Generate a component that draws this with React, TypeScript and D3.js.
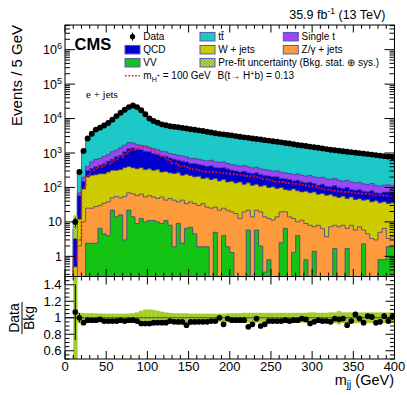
import React from "react";
import * as d3 from "d3";

// ---------------- data (5 GeV bins, 0 - 400 GeV) ----------------
const massEdges = d3.range(0, 401, 5);

const dataCounts = [
  0, 0, 10, 280, 1140, 2630, 3640, 4780, 5450, 6300,
  7400, 9300, 11800, 14800, 18000, 21500, 24000, 21500, 17400, 13300,
  10000, 8500, 7600, 6800, 6400, 6000, 5800, 5600, 5350, 5150,
  4900, 4750, 4550, 4350, 4150, 3950, 3750, 3600, 3480, 3350,
  3240, 3100, 2950, 2850, 2750, 2650, 2560, 2460, 2360, 2290,
  2200, 2120, 2040, 1960, 1880, 1790, 1700, 1650, 1590, 1530,
  1470, 1420, 1360, 1300, 1240, 1200, 1160, 1120, 1090, 1060,
  1020, 990, 960, 930, 900, 870, 840, 810, 790, 760,
];

const ttbar = [
  0, 0, 2.85, 211, 1013, 2301, 3203, 4278, 4871, 5763,
  6818, 8608, 11092, 13848, 17080, 20165, 22792, 20656, 17040, 12701,
  9323, 7703, 6835, 6114, 5729, 5290, 5188, 5036, 4810, 4890,
  4470, 4296, 4130, 3962, 3778, 3498, 3354, 3060, 3231, 2890,
  2878, 2753, 2627, 2505, 2694, 2510, 2199, 2387, 2234, 2068,
  1996, 1905, 1848, 1756, 1705, 1608, 1505, 1440, 1410, 1423,
  1344, 1274, 1218, 1176, 1135, 1030, 1022, 979, 1036, 959,
  845, 858, 894, 790, 761, 812, 775, 678, 704, 638,
];

const singleTop = [
  0, 0, 0.5, 12, 50, 100, 195, 250, 250, 310,
  315, 420, 420, 550, 590, 660, 550, 450, 420, 480,
  350, 380, 350, 300, 280, 245, 258, 242, 245, 217,
  194, 210, 197, 174, 176, 194, 173, 170, 173, 148,
  145, 140, 131, 137, 131, 117, 122, 109, 109, 100,
  93, 100, 95, 87, 83, 82, 86, 82, 76, 80,
  73, 74, 75, 69, 66, 68, 62, 59, 62, 58,
  53, 55, 49, 47, 50, 44, 42, 43, 46, 44,
];

const qcd = [
  0, 0, 5.5, 45, 60, 110, 130, 165, 190, 240,
  295, 345, 465, 530, 705, 935, 1025, 940, 875, 790,
  730, 645, 570, 540, 510, 450, 406, 352, 350, 309,
  272, 291, 250, 261, 224, 253, 197, 215, 209, 201,
  165, 167, 138, 172, 129, 137, 141, 128, 106, 117,
  99, 110, 82, 91, 87, 64, 82, 70, 58, 72,
  55, 52, 57, 49, 42, 58, 48, 37, 52, 34,
  38, 39, 35, 30, 42, 29, 31, 35, 39, 34,
];

const wJets = [
  0, 0, 0.5, 10, 80, 175, 200, 207, 220, 215,
  242, 265, 260, 280, 320, 335, 310, 292, 310, 277,
  292, 262, 282, 227, 247, 217, 210, 227, 184, 209,
  184, 169, 182, 148, 163, 145, 155, 133, 145, 123,
  132, 118, 132, 104, 114, 102, 102, 89, 102, 87,
  93, 79, 80, 67, 69, 78, 70, 63, 69, 62,
  67, 56, 60, 56, 55, 48, 44, 48, 41, 45,
  39, 40, 37, 40, 35, 38, 31, 32, 31, 32,
];

const zJets = [
  0, 0, 0, 2, 10, 22.6, 22.6, 25.6, 23.5, 30.5,
  34, 28, 41, 34, 52, 48, 51, 49, 52, 43,
  47, 42, 38, 44, 32, 40, 41, 29, 40.6, 27.5,
  31, 29.5, 28, 32, 25, 25, 22, 22, 21, 20,
  18.3, 17.5, 12.6, 19.6, 16.2, 14, 16.2, 17.6, 13.65, 11.8,
  11.3, 14, 17.1, 13.1, 14, 11.3, 6, 11.3, 8.2, 8,
  5.8, 8, 6.5, 3.7, 7.2, 6.3, 7.2, 8, 4.8, 8,
  5.8, 7.2, 3.5, 4.5, 3.3, 3, 4.2, 5.7, 1.4, 1.8,
];

const diboson = [
  0, 0, 0, 0, 0, 2.4, 2.4, 2.4, 6.5, 4.5,
  4, 22, 14, 16, 3, 22, 14, 9, 12.6, 10,
  11, 11, 10, 9, 11, 8, 1.9, 9, 2.4, 6.5,
  7, 4.5, 1.9, 1.9, 1.9, 0, 5, 0, 4, 1.9,
  1.3, 0, 0, 0, 5.8, 0, 5.8, 2, 0.35, 0.8,
  0, 0, 2.5, 6.5, 0, 1.3, 4, 0, 0.8, 0,
  1.4, 0, 0, 0, 0, 1.7, 0, 0, 1.7, 0,
  0, 0, 2.3, 0, 0, 0, 0.8, 0.8, 1.9, 1.9,
];

const signalHp = [
  0, 0, 0.8, 3, 100, 220, 300, 350, 390, 440,
  490, 560, 650, 760, 900, 1100, 1250, 1350, 1480, 1500,
  1380, 1150, 950, 830, 700, 580, 500, 450, 410, 390,
  360, 335, 315, 300, 290, 282, 275, 268, 262, 255,
  248, 240, 232, 225, 218, 210, 200, 185, 175, 165,
  155, 148, 142, 138, 133, 130, 126, 120, 115, 110,
  105, 98, 92, 87, 83, 80, 77, 75, 73, 71,
  69, 67, 66, 64, 62, 60, 59, 59, 58, 58,
];

const bkgRelUnc = [
  0, 0, 0.65, 0.06, 0.058, 0.055, 0.055, 0.052, 0.052, 0.05,
  0.05, 0.05, 0.05, 0.05, 0.05, 0.052, 0.055, 0.065, 0.085, 0.1,
  0.1, 0.095, 0.085, 0.075, 0.065, 0.06, 0.055, 0.055, 0.055, 0.055,
  0.05, 0.05, 0.05, 0.05, 0.05, 0.05, 0.05, 0.05, 0.05, 0.055,
  0.055, 0.055, 0.055, 0.06, 0.06, 0.06, 0.06, 0.06, 0.06, 0.06,
  0.06, 0.06, 0.06, 0.06, 0.06, 0.06, 0.06, 0.06, 0.06, 0.065,
  0.065, 0.06, 0.06, 0.06, 0.065, 0.065, 0.08, 0.065, 0.065, 0.065,
  0.065, 0.065, 0.065, 0.065, 0.065, 0.065, 0.065, 0.065, 0.065, 0.065,
];

const xTickLabels = [0, 50, 100, 150, 200, 250, 300, 350, 400];
const ratioTickLabels = [0.6, 0.8, 1, 1.2, 1.4];
const decadeLabels = [
  { v: 1, base: "1", exp: "" },
  { v: 10, base: "10", exp: "" },
  { v: 1e2, base: "10", exp: "2" },
  { v: 1e3, base: "10", exp: "3" },
  { v: 1e4, base: "10", exp: "4" },
  { v: 1e5, base: "10", exp: "5" },
  { v: 1e6, base: "10", exp: "6" },
];

const COLORS = {
  vv: "#14c414",
  z: "#fc9a3c",
  w: "#cccc00",
  qcd: "#0000cc",
  st: "#9b47f5",
  tt: "#1cc8c8",
  outline: "#3c3c8c",
  band: "#a2cc2c",
};

const FONT = "'Liberation Sans', Arial, Helvetica, sans-serif";

export default function App() {
  const W = 407;
  const H = 395;
  const left = 65;
  const right = 394.5;
  const top = 25;
  const mid = 276.5;
  const bot = 359;
  const yMin = 0.26;
  const yMax = 5.2e6;

  const x = d3.scaleLinear().domain([0, 400]).range([left, right]);
  const y = d3.scaleLog().domain([yMin, yMax]).range([mid, top]);
  const yr = d3.scaleLinear().domain([0.5, 1.5]).range([bot, mid]);

  const layers = [
    { key: "vv", values: diboson, color: COLORS.vv },
    { key: "z", values: zJets, color: COLORS.z },
    { key: "w", values: wJets, color: COLORS.w },
    { key: "qcd", values: qcd, color: COLORS.qcd },
    { key: "st", values: singleTop, color: COLORS.st },
    { key: "tt", values: ttbar, color: COLORS.tt },
  ];
  const cum: number[][] = [];
  layers.forEach((l, k) => {
    cum.push(l.values.map((v, i) => v + (k > 0 ? cum[k - 1][i] : 0)));
  });
  const total = cum[cum.length - 1];

  const yc = (v: number) => (v > yMin ? y(v) : mid + 3);
  const line = d3.line();
  const stepPath = (vals: number[], startBin = 0) => {
    const pts: [number, number][] = [];
    pts.push([x(massEdges[startBin]), mid + 3]);
    for (let i = startBin; i < vals.length; i++) {
      pts.push([x(massEdges[i]), yc(vals[i])]);
      pts.push([x(massEdges[i + 1]), yc(vals[i])]);
    }
    pts.push([x(massEdges[vals.length]), mid + 3]);
    return line(pts) || "";
  };
  const signalPath = (() => {
    const pts: [number, number][] = [];
    pts.push([x(massEdges[2]), mid + 3]);
    for (let i = 2; i < signalHp.length; i++) {
      pts.push([x(massEdges[i]), yc(signalHp[i])]);
      pts.push([x(massEdges[i + 1]), yc(signalHp[i])]);
    }
    return line(pts) || "";
  })();

  // ticks
  const xMinor = d3.range(0, 401, 10);
  const logMinor: number[] = [];
  for (let d = -1; d <= 6; d++) {
    for (let m = 2; m <= 9; m++) {
      const v = m * Math.pow(10, d);
      if (v > yMin && v < yMax) logMinor.push(v);
    }
  }
  const logMajor = [1, 10, 100, 1e3, 1e4, 1e5, 1e6];
  const rMinor = d3.range(0.5, 1.5001, 0.05).map((v) => +v.toFixed(2));
  const rMajor = [0.6, 0.8, 1.0, 1.2, 1.4];

  const binCenters = massEdges.slice(0, -1).map((e) => e + 2.5);

  // legend
  const col1 = 125;
  const col2 = 200;
  const col3 = 283.3;
  const rows = [36.7, 49.7, 62.7, 75.7];
  const boxW = 15;
  const boxH = 8.5;
  const legBoxes = [
    { x: col2, y: rows[0], fill: COLORS.tt, label: "" },
    { x: col3, y: rows[0], fill: COLORS.st, label: "Single t" },
    { x: col1, y: rows[1], fill: COLORS.qcd, label: "QCD" },
    { x: col2, y: rows[1], fill: COLORS.w, label: "W + jets" },
    { x: col3, y: rows[1], fill: COLORS.z, label: "Z/\u03b3 + jets" },
    { x: col1, y: rows[2], fill: COLORS.vv, label: "VV" },
    { x: col2, y: rows[2], fill: "url(#hatch)", label: "Pre-fit uncertainty (Bkg. stat. \u2295 sys.)" },
  ];

  return (
    <svg width={W} height={H} viewBox={`0 0 ${W} ${H}`} style={{ display: "block", position: "absolute", left: 0, top: 0, background: "#fff" }}>
      <defs>
        <clipPath id="mainClip">
          <rect x={left} y={top} width={right - left} height={mid - top} />
        </clipPath>
        <clipPath id="ratioClip">
          <rect x={left} y={mid} width={right - left} height={bot - mid} />
        </clipPath>
        <pattern id="hatch" width="3" height="3" patternUnits="userSpaceOnUse">
          <rect width="3" height="3" fill="#d8e860" />
          <rect width="1.5" height="1.5" fill="#6aaa20" />
          <rect x="1.5" y="1.5" width="1.5" height="1.5" fill="#6aaa20" />
        </pattern>
      </defs>
      <rect x={0} y={0} width={W} height={H} fill="#fff" />

      {/* ---------- main panel ---------- */}
      <g clipPath="url(#mainClip)">
        {layers
          .map((l, k) => ({ ...l, k }))
          .reverse()
          .map((l) => (
            <path key={l.key} d={stepPath(cum[l.k])} fill={l.color} stroke={COLORS.outline} strokeWidth={0.9} strokeOpacity={0.85} />
          ))}
        {total.map((t, i) =>
          t > 0 ? (
            <rect
              key={"u" + i}
              x={x(massEdges[i])}
              width={x(massEdges[i + 1]) - x(massEdges[i])}
              y={yc(t * (1 + bkgRelUnc[i]))}
              height={Math.max(0, yc(t * (1 - bkgRelUnc[i])) - yc(t * (1 + bkgRelUnc[i])))}
              fill="url(#hatch)"
            />
          ) : null
        )}
        <path d={signalPath} fill="none" stroke="#ff1010" strokeWidth={1.7} strokeDasharray="1.7 2.1" />
        {dataCounts.map((n, i) =>
          n > 0 ? (
            <g key={"d" + i}>
              <line x1={x(binCenters[i])} x2={x(binCenters[i])} y1={yc(n + Math.sqrt(n))} y2={yc(Math.max(n - Math.sqrt(n), yMin * 1.01))} stroke="#000" strokeWidth={1} />
              <circle cx={x(binCenters[i])} cy={y(n)} r={2.95} fill="#000" />
            </g>
          ) : null
        )}
      </g>

      {/* main frame & ticks */}
      <rect x={left} y={top} width={right - left} height={mid - top} fill="none" stroke="#000" strokeWidth={1} />
      {xMinor.map((v) => {
        const major = v % 50 === 0;
        const len = major ? 7.5 : 3.8;
        return (
          <g key={"xt" + v}>
            <line x1={x(v)} x2={x(v)} y1={mid} y2={mid - len} stroke="#000" strokeWidth={1} />
            <line x1={x(v)} x2={x(v)} y1={top} y2={top + len} stroke="#000" strokeWidth={1} />
          </g>
        );
      })}
      {logMinor.map((v) => (
        <g key={"ym" + v}>
          <line x1={left} x2={left + 5} y1={y(v)} y2={y(v)} stroke="#000" strokeWidth={1} />
          <line x1={right} x2={right - 5} y1={y(v)} y2={y(v)} stroke="#000" strokeWidth={1} />
        </g>
      ))}
      {logMajor.map((v) => (
        <g key={"yM" + v}>
          <line x1={left} x2={left + 10} y1={y(v)} y2={y(v)} stroke="#000" strokeWidth={1} />
          <line x1={right} x2={right - 10} y1={y(v)} y2={y(v)} stroke="#000" strokeWidth={1} />
        </g>
      ))}
      {decadeLabels.map((d) => (
        <text key={"yl" + d.v} x={62} y={y(d.v) + 4.5} textAnchor="end" fontFamily={FONT} fontSize={12.5} fill="#000">
          {d.base}
          {d.exp ? (
            <tspan dy={-5} fontSize={9}>
              {d.exp}
            </tspan>
          ) : null}
        </text>
      ))}

      {/* ---------- ratio panel ---------- */}
      <g clipPath="url(#ratioClip)">
        {total.map((t, i) =>
          t > 0 ? (
            <rect
              key={"rb" + i}
              x={x(massEdges[i])}
              width={x(massEdges[i + 1]) - x(massEdges[i]) + 0.2}
              y={yr(1 + bkgRelUnc[i])}
              height={yr(1 - bkgRelUnc[i]) - yr(1 + bkgRelUnc[i])}
              fill={COLORS.band}
            />
          ) : null
        )}
        <line x1={left} x2={right} y1={yr(1)} y2={yr(1)} stroke="#4a4a4a" strokeWidth={1} />
        {dataCounts.map((n, i) => {
          if (!(n > 0) || !(total[i] > 0)) return null;
          const r = n / total[i];
          const e = Math.sqrt(n) / total[i];
          return (
            <g key={"r" + i}>
              <line x1={x(binCenters[i])} x2={x(binCenters[i])} y1={yr(r + e)} y2={yr(r - e)} stroke="#000" strokeWidth={1} />
              <circle cx={x(binCenters[i])} cy={yr(r)} r={2.85} fill="#000" />
            </g>
          );
        })}
      </g>
      <rect x={left} y={mid} width={right - left} height={bot - mid} fill="none" stroke="#000" strokeWidth={1} />
      {xMinor.map((v) => {
        const major = v % 50 === 0;
        const len = major ? 8 : 4;
        return (
          <g key={"rxt" + v}>
            <line x1={x(v)} x2={x(v)} y1={bot} y2={bot - len} stroke="#000" strokeWidth={1} />
            <line x1={x(v)} x2={x(v)} y1={mid} y2={mid + len} stroke="#000" strokeWidth={1} />
          </g>
        );
      })}
      {rMinor.map((v) => {
        const major = rMajor.some((m) => Math.abs(m - v) < 1e-6) || Math.abs(v - 1) < 1e-6;
        const len = major ? 9 : 4.5;
        return (
          <g key={"ryt" + v}>
            <line x1={left} x2={left + len} y1={yr(v)} y2={yr(v)} stroke="#000" strokeWidth={1} />
            <line x1={right} x2={right - len} y1={yr(v)} y2={yr(v)} stroke="#000" strokeWidth={1} />
          </g>
        );
      })}
      {ratioTickLabels.map((v) => (
        <text key={"rl" + v} x={61.5} y={yr(v) + 4.6} textAnchor="end" fontFamily={FONT} fontSize={13} fill="#000">
          {String(v)}
        </text>
      ))}
      {xTickLabels.map((v) => (
        <text key={"xl" + v} x={x(v)} y={370.5} textAnchor="middle" fontFamily={FONT} fontSize={13} fill="#000">
          {String(v)}
        </text>
      ))}

      {/* ---------- axis titles ---------- */}
      <text transform="translate(21.5,25) rotate(-90)" textAnchor="end" fontFamily={FONT} fontSize={15} fill="#000">
        Events / 5 GeV
      </text>
      <text x={394} y={384.5} textAnchor="end" fontFamily={FONT} fontSize={14.5} fill="#000">
        m
        <tspan dy={3.5} fontSize={10}>
          jj
        </tspan>
        <tspan dy={-3.5}> (GeV)</tspan>
      </text>
      <g transform="translate(0,318) rotate(-90)">
        <text x={0} y={19} textAnchor="middle" fontFamily={FONT} fontSize={14} fill="#000">
          Data
        </text>
        <line x1={-16} x2={16} y1={22} y2={22} stroke="#000" strokeWidth={1} />
        <text x={0} y={34} textAnchor="middle" fontFamily={FONT} fontSize={14} fill="#000">
          Bkg
        </text>
      </g>

      {/* ---------- labels ---------- */}
      <text x={385.5} y={19} textAnchor="end" fontFamily={FONT} fontSize={12.5} fill="#000">
        35.9 fb
        <tspan dy={-5} fontSize={8.5}>
          -1
        </tspan>
        <tspan dy={5}> (13 TeV)</tspan>
      </text>
      <text x={74.5} y={50} fontFamily={FONT} fontSize={16.5} fontWeight="bold" fill="#000">
        CMS
      </text>
      <text x={86} y={98} fontFamily="'Liberation Serif', 'Times New Roman', serif" fontSize={11} fill="#000">
        e + jets
      </text>

      {/* ---------- legend ---------- */}
      <line x1={col1 + boxW / 2} x2={col1 + boxW / 2} y1={rows[0] - 4} y2={rows[0] + 4} stroke="#000" strokeWidth={1} />
      <circle cx={col1 + boxW / 2} cy={rows[0]} r={2.6} fill="#000" />
      <text x={143.3} y={rows[0] + 3.6} fontFamily={FONT} fontSize={10} fill="#000">
        Data
      </text>
      {legBoxes.map((b, i) => (
        <g key={"lb" + i}>
          <rect x={b.x} y={b.y - boxH / 2} width={boxW} height={boxH} fill={b.fill} stroke="#5858a8" strokeWidth={1} />
          <text x={b.x + 18.3} y={b.y + 3.6} fontFamily={FONT} fontSize={10} fill="#000">
            {b.label}
          </text>
        </g>
      ))}
      {/* t t-bar label */}
      <text x={col2 + 18.3} y={rows[0] + 3.6} fontFamily={FONT} fontSize={10} fill="#000">
        tt
      </text>
      <line x1={col2 + 18.3 + 2.9} x2={col2 + 18.3 + 5.6} y1={rows[0] - 5} y2={rows[0] - 5} stroke="#000" strokeWidth={0.8} />
      <line x1={col1} x2={col1 + boxW} y1={rows[3]} y2={rows[3]} stroke="#ff1010" strokeWidth={1.6} strokeDasharray="1.6 1.8" />
      <text x={143.3} y={rows[3] + 3.6} fontFamily={FONT} fontSize={10} fill="#000">
        m
        <tspan dy={2.5} fontSize={7}>
          H
        </tspan>
        <tspan dy={-4.5} fontSize={5.5}>
          +
        </tspan>
        <tspan dy={2}> = 100 GeV</tspan>
      </text>
      <text x={217.5} y={rows[3] + 3.6} fontFamily={FONT} fontSize={10} fill="#000">
        B(t{"\u2192"} H
        <tspan dy={-3.5} fontSize={7}>
          +
        </tspan>
        <tspan dy={3.5}>b) = 0.13</tspan>
      </text>
    </svg>
  );
}
